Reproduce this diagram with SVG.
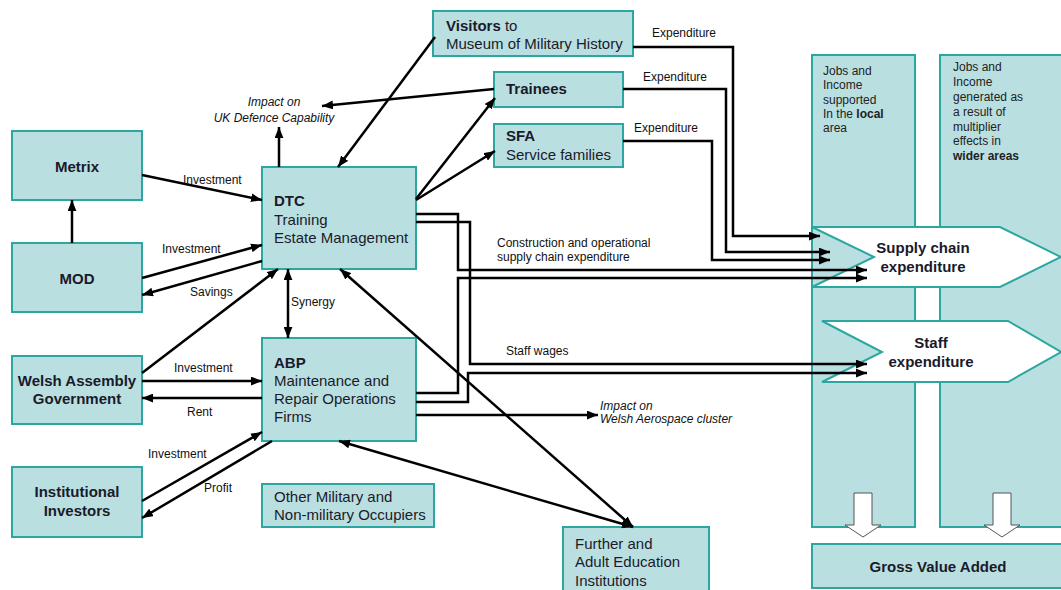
<svg xmlns="http://www.w3.org/2000/svg" width="1061" height="590" viewBox="0 0 1061 590">
<style>
.box{fill:#badfe1;stroke:#2ba6a1;stroke-width:2}
.t{font-family:"Liberation Sans",Arial,sans-serif;font-size:15px;fill:#1a1a2a}
.b{font-weight:bold}
.lbl{font-family:"Liberation Sans",Arial,sans-serif;font-size:12px;fill:#111}
.it{font-style:italic}
.col{font-family:"Liberation Sans",Arial,sans-serif;font-size:12px;fill:#222}
.ln{fill:none;stroke:#000;stroke-width:2.5}
.chev{fill:#fff;stroke:#2ba6a1;stroke-width:2}
.down{fill:#fff;stroke:#555;stroke-width:1}
</style>
<defs>
<marker id="ah" viewBox="0 0 10 8" refX="10" refY="4" markerWidth="11" markerHeight="9" markerUnits="userSpaceOnUse" orient="auto-start-reverse">
<path d="M0,0 L10,4 L0,8 z" fill="#000"/>
</marker>
</defs>
<rect width="1061" height="590" fill="#fff"/>

<g id="columns">
<rect class="box" x="812" y="55" width="103" height="472"/>
<rect class="box" x="940" y="55" width="130" height="472"/>
<text class="col" x="823" y="75">Jobs and</text>
<text class="col" x="823" y="89">Income</text>
<text class="col" x="823" y="104">supported</text>
<text class="col" x="823" y="118">In the <tspan class="b">local</tspan></text>
<text class="col" x="823" y="132">area</text>
<text class="col" x="953" y="71">Jobs and</text>
<text class="col" x="953" y="86">Income</text>
<text class="col" x="953" y="101">generated as</text>
<text class="col" x="953" y="116">a result of</text>
<text class="col" x="953" y="131">multiplier</text>
<text class="col" x="953" y="145">effects in</text>
<text class="col b" x="953" y="160">wider areas</text>
</g>

<g id="supply-chain">
<polygon class="chev" points="812,227 1000,227 1061,257 1000,287 812,287 874,257"/>
<text class="t b" x="923" y="253" text-anchor="middle">Supply chain</text>
<text class="t b" x="923" y="272" text-anchor="middle">expenditure</text>
</g>
<g id="staff-exp">
<polygon class="chev" points="822,321 1008,321 1061,352 1008,382 822,382 882,352"/>
<text class="t b" x="931" y="348" text-anchor="middle">Staff</text>
<text class="t b" x="931" y="367" text-anchor="middle">expenditure</text>
</g>
<g id="down-arrows">
<polygon class="down" points="854,493 872,493 872,525 881,525 863,537 845,525 854,525"/>
<polygon class="down" points="993,493 1011,493 1011,525 1020,525 1002,537 984,525 993,525"/>
</g>
<g id="gva">
<rect class="box" x="812" y="544" width="258" height="44"/>
<text class="t b" x="938" y="572" text-anchor="middle">Gross Value Added</text>
</g>

<g id="metrix"><rect class="box" x="12" y="131" width="130" height="69"/><text class="t b" x="77" y="172" text-anchor="middle">Metrix</text></g>
<g id="mod"><rect class="box" x="12" y="243" width="130" height="69"/><text class="t b" x="77" y="284" text-anchor="middle">MOD</text></g>
<g id="wag"><rect class="box" x="12" y="356" width="130" height="68"/><text class="t b" x="77" y="386" text-anchor="middle">Welsh Assembly</text><text class="t b" x="77" y="404" text-anchor="middle">Government</text></g>
<g id="investors"><rect class="box" x="12" y="467" width="130" height="70"/><text class="t b" x="77" y="497" text-anchor="middle">Institutional</text><text class="t b" x="77" y="516" text-anchor="middle">Investors</text></g>
<g id="dtc"><rect class="box" x="262" y="167" width="154" height="102"/><text class="t b" x="274" y="206">DTC</text><text class="t" x="274" y="225">Training</text><text class="t" x="274" y="243">Estate Management</text></g>
<g id="abp"><rect class="box" x="262" y="338" width="154" height="103"/><text class="t b" x="274" y="368">ABP</text><text class="t" x="274" y="386">Maintenance and</text><text class="t" x="274" y="404">Repair Operations</text><text class="t" x="274" y="422">Firms</text></g>
<g id="other"><rect class="box" x="262" y="484" width="172" height="43"/><text class="t" x="274" y="502">Other Military and</text><text class="t" x="274" y="520">Non-military Occupiers</text></g>
<g id="visitors"><rect class="box" x="433" y="11" width="200" height="45"/><text class="t" x="446" y="31"><tspan class="b">Visitors</tspan> to</text><text class="t" x="446" y="49">Museum of Military History</text></g>
<g id="trainees"><rect class="box" x="494" y="72" width="129" height="35"/><text class="t b" x="506" y="94">Trainees</text></g>
<g id="sfa"><rect class="box" x="494" y="124" width="129" height="43"/><text class="t b" x="506" y="141">SFA</text><text class="t" x="506" y="160">Service families</text></g>
<g id="further-ed"><rect class="box" x="563" y="527" width="146" height="75"/><text class="t" x="575" y="549">Further and</text><text class="t" x="575" y="567">Adult Education</text><text class="t" x="575" y="586">Institutions</text></g>

<g id="connectors">
<line class="ln" x1="142" y1="175" x2="262" y2="200" marker-end="url(#ah)"/>
<line class="ln" x1="72" y1="243" x2="72" y2="200" marker-end="url(#ah)"/>
<line class="ln" x1="142" y1="278" x2="262" y2="245" marker-end="url(#ah)"/>
<line class="ln" x1="262" y1="261" x2="142" y2="295" marker-end="url(#ah)"/>
<line class="ln" x1="142" y1="373" x2="278" y2="269" marker-end="url(#ah)"/>
<line class="ln" x1="288" y1="269" x2="288" y2="338" marker-start="url(#ah)" marker-end="url(#ah)"/>
<line class="ln" x1="142" y1="381" x2="262" y2="381" marker-end="url(#ah)"/>
<line class="ln" x1="262" y1="398" x2="142" y2="398" marker-end="url(#ah)"/>
<line class="ln" x1="142" y1="501" x2="262" y2="432" marker-end="url(#ah)"/>
<line class="ln" x1="272" y1="441" x2="142" y2="518" marker-end="url(#ah)"/>
<line class="ln" x1="339" y1="441" x2="633" y2="527" marker-start="url(#ah)" marker-end="url(#ah)"/>
<line class="ln" x1="340" y1="269" x2="633" y2="527" marker-start="url(#ah)" marker-end="url(#ah)"/>
<line class="ln" x1="279" y1="167" x2="279" y2="127" marker-end="url(#ah)"/>
<line class="ln" x1="494" y1="89" x2="322" y2="106" marker-end="url(#ah)"/>
<line class="ln" x1="435" y1="37" x2="338" y2="167" marker-end="url(#ah)"/>
<line class="ln" x1="416" y1="199" x2="495" y2="98" marker-end="url(#ah)"/>
<line class="ln" x1="416" y1="200" x2="495" y2="151" marker-end="url(#ah)"/>
<polyline class="ln" points="633,47 733,47 733,236 820,236" marker-end="url(#ah)"/>
<polyline class="ln" points="623,89 726,89 726,252 830,252" marker-end="url(#ah)"/>
<polyline class="ln" points="623,141 712,141 712,260 830,260" marker-end="url(#ah)"/>
<polyline class="ln" points="416,214 458,214 458,270 867,270" marker-end="url(#ah)"/>
<polyline class="ln" points="416,222 470,222 470,364 867,364" marker-end="url(#ah)"/>
<polyline class="ln" points="416,393 458,393 458,278 867,278" marker-end="url(#ah)"/>
<polyline class="ln" points="416,402 468,402 468,373 867,373" marker-end="url(#ah)"/>
<line class="ln" x1="416" y1="415" x2="598" y2="415" marker-end="url(#ah)"/>
</g>

<g id="labels">
<text class="lbl" x="183" y="184">Investment</text>
<text class="lbl" x="162" y="253">Investment</text>
<text class="lbl" x="190" y="296">Savings</text>
<text class="lbl" x="291" y="306">Synergy</text>
<text class="lbl" x="174" y="372">Investment</text>
<text class="lbl" x="187" y="416">Rent</text>
<text class="lbl" x="148" y="458">Investment</text>
<text class="lbl" x="204" y="492">Profit</text>
<text class="lbl" x="652" y="37">Expenditure</text>
<text class="lbl" x="643" y="81">Expenditure</text>
<text class="lbl" x="634" y="132">Expenditure</text>
<text class="lbl" x="497" y="247">Construction and operational</text>
<text class="lbl" x="497" y="261">supply chain expenditure</text>
<text class="lbl" x="506" y="355">Staff wages</text>
<text class="lbl it" x="274" y="106" text-anchor="middle">Impact on</text>
<text class="lbl it" x="274" y="122" text-anchor="middle">UK Defence Capability</text>
<text class="lbl it" x="600" y="410">Impact on</text>
<text class="lbl it" x="600" y="423">Welsh Aerospace cluster</text>
</g>
</svg>
